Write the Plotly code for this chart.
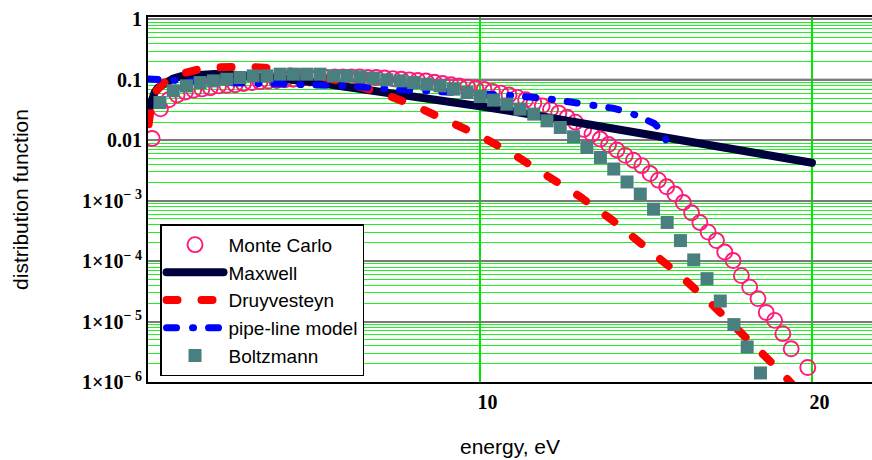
import numpy as np
import plotly.graph_objects as go

# ---------------- data ----------------
# Monte Carlo: energy (eV) and log10 of distribution function
E_mc = [0.125, 0.375, 0.625, 0.875, 1.125, 1.375, 1.625, 1.875, 2.125, 2.375,
        2.625, 2.875, 3.125, 3.375, 3.625, 3.875, 4.125, 4.375, 4.625, 4.875,
        5.125, 5.375, 5.625, 5.875, 6.125, 6.375, 6.625, 6.875, 7.125, 7.375,
        7.625, 7.875, 8.125, 8.375, 8.625, 8.875, 9.125, 9.375, 9.625, 9.875,
        10.125, 10.375, 10.625, 10.875, 11.125, 11.375, 11.625, 11.875, 12.125, 12.375,
        12.625, 12.875, 13.125, 13.375, 13.625, 13.875, 14.125, 14.375, 14.625, 14.875,
        15.125, 15.375, 15.625, 15.875, 16.125, 16.375, 16.625, 16.875, 17.125, 17.375,
        17.625, 17.875, 18.125, 18.375, 18.625, 18.875, 19.125, 19.375, 19.875]
log_mc = [-1.97, -1.48, -1.33, -1.25, -1.20, -1.17, -1.15, -1.13, -1.10, -1.09,
          -1.08, -1.06, -1.045, -1.03, -1.02, -1.01, -1.00, -0.99, -0.98, -0.97,
          -0.96, -0.96, -0.95, -0.95, -0.95, -0.95, -0.96, -0.96, -0.97, -0.98,
          -0.99, -1.00, -1.01, -1.02, -1.04, -1.06, -1.08, -1.10, -1.12, -1.14,
          -1.16, -1.19, -1.22, -1.25, -1.29, -1.33, -1.38, -1.43, -1.49, -1.55,
          -1.62, -1.70, -1.82, -1.90, -1.98, -2.07, -2.16, -2.25, -2.33, -2.42,
          -2.55, -2.66, -2.77, -2.89, -3.03, -3.20, -3.36, -3.52, -3.66, -3.85,
          -3.99, -4.24, -4.43, -4.62, -4.85, -4.98, -5.20, -5.45, -5.76]

# Maxwell
E_max = [0.05, 0.1, 0.2, 0.3, 0.5, 0.75, 1, 1.5, 2, 2.5, 3, 4, 5, 6, 7, 8, 9, 10,
         11, 12, 13, 14, 15, 16, 17, 18, 19, 20]
f_max = [0.036, 0.047, 0.062, 0.074, 0.090, 0.105, 0.115, 0.123, 0.125, 0.123,
         0.118, 0.105, 0.091, 0.077, 0.065, 0.054, 0.0446, 0.0366, 0.0299, 0.0243,
         0.0197, 0.0159, 0.0128, 0.0103, 0.0083, 0.0066, 0.0053, 0.00425]

# Druyvesteyn
E_dru = [0.02, 0.05, 0.1, 0.25, 0.5, 1, 1.5, 2, 2.5, 3, 3.5, 4, 5, 6, 7, 8, 9, 10,
         11, 12, 13, 14, 15, 16, 17, 18, 19, 19.6]
f_dru = [0.0185, 0.0292, 0.0413, 0.0652, 0.0916, 0.126, 0.148, 0.160, 0.166, 0.165,
         0.159, 0.148, 0.120, 0.089, 0.061, 0.038, 0.022, 0.0119, 0.0059, 0.0027,
         0.00118, 4.7e-4, 1.75e-4, 6.0e-5, 1.9e-5, 5.7e-6, 1.6e-6, 7.0e-7]

# pipe-line model
E_pipe = [0, 0.5, 1, 2, 3, 4, 5, 6, 7, 8, 9, 10, 11, 12, 13, 14, 14.5, 15, 15.25,
          15.5, 15.7]
f_pipe = [0.103, 0.099, 0.095, 0.091, 0.088, 0.086, 0.085, 0.080, 0.072, 0.067,
          0.063, 0.062, 0.055, 0.049, 0.042, 0.034, 0.029, 0.022, 0.019, 0.014, 0.0075]

# Boltzmann: energy (eV) and log10 of distribution function
E_bol = [0.36, 0.76, 1.16, 1.57, 1.97, 2.37, 2.77, 3.17, 3.58, 3.98, 4.38, 4.78,
         5.18, 5.59, 5.99, 6.39, 6.79, 7.19, 7.60, 8.00, 8.40, 8.80, 9.20, 9.61,
         10.01, 10.41, 10.81, 11.21, 11.62, 12.02, 12.42, 12.82, 13.22, 13.63, 14.03,
         14.43, 14.83, 15.23, 15.64, 16.04, 16.44, 16.84, 17.24, 17.65, 18.05, 18.45]
log_bol = [-1.375, -1.18, -1.10, -1.045, -1.017, -0.99, -0.962, -0.934, -0.934, -0.906,
           -0.906, -0.906, -0.906, -0.934, -0.934, -0.95, -0.972, -1.0, -1.017, -1.045,
           -1.071, -1.099, -1.154, -1.21, -1.276, -1.336, -1.402, -1.484, -1.567, -1.678,
           -1.788, -1.942, -2.119, -2.284, -2.476, -2.69, -2.89, -3.14, -3.36, -3.66,
           -3.98, -4.29, -4.66, -5.05, -5.42, -5.85]

y_tickvals = [1, 0.1, 0.01, 1e-3, 1e-4, 1e-5, 1e-6]
y_ticktext = ["1", "0.1", "0.01", "1\u00d710<sup>\u2212 3</sup>", "1\u00d710<sup>\u2212 4</sup>",
              "1\u00d710<sup>\u2212 5</sup>", "1\u00d710<sup>\u2212 6</sup>"]
x_tickvals = [10, 20]
x_ticktext = ["&nbsp;&nbsp;&nbsp;10", "&nbsp;&nbsp;&nbsp;20"]

Y_RANGE = [-6.0, 0.04]
X_RANGE = [0, 21.81]

# ---------------- figure ----------------
fig = go.Figure()
fig.add_trace(go.Scatter(
    x=E_mc, y=np.power(10.0, log_mc), mode="markers", name="Monte Carlo",
    marker=dict(symbol="circle-open", size=15, color="#ff1a7a",
                line=dict(width=1.9, color="#ff1a7a"))))
fig.add_trace(go.Scatter(
    x=E_max, y=f_max, mode="lines", name="Maxwell",
    line=dict(color="#00003c", width=8)))
fig.add_trace(go.Scatter(
    x=E_dru, y=f_dru, mode="lines", name="Druyvesteyn",
    line=dict(color="#ff0000", width=8, dash="11px,24px")))
fig.add_trace(go.Scatter(
    x=E_pipe, y=f_pipe, mode="lines", name="pipe-line model",
    line=dict(color="#0000ff", width=7, dash="10px,16px,1px,15px")))
fig.add_trace(go.Scatter(
    x=E_bol, y=np.power(10.0, log_bol), mode="markers", name="Boltzmann",
    marker=dict(symbol="square", size=13, color="#4a7f80")))

green = "#22f022"
serif_bold = dict(family="Liberation Serif, Times New Roman, serif", size=20,
                  color="black", weight="bold")
sans_title = dict(family="Arial, Liberation Sans, sans-serif", size=21, color="black")
sans_leg = dict(family="Arial, Liberation Sans, sans-serif", size=19, color="black")

fig.update_xaxes(
    range=X_RANGE, tickmode="array", tickvals=x_tickvals, ticktext=x_ticktext,
    tickfont=serif_bold, ticks="", showgrid=True, gridcolor="#00e600", gridwidth=1.5,
    zeroline=False, showline=True, linecolor="black", linewidth=2, mirror=True,
    ticklabelstandoff=1,
    title=dict(text="energy, eV", font=sans_title, standoff=27))
fig.update_yaxes(
    type="log", range=Y_RANGE, tickmode="array", tickvals=y_tickvals,
    ticktext=y_ticktext, tickfont=serif_bold, ticks="", showgrid=True,
    gridcolor="#7a7a7a", gridwidth=2, zeroline=False, showline=True,
    linecolor="black", linewidth=2, mirror=False,
    minor=dict(dtick="D1", showgrid=True, gridcolor=green, gridwidth=1, ticks=""),
    title=dict(text="distribution function", font=sans_title, standoff=48))


def paper_y(v):
    return (np.log10(v) - Y_RANGE[0]) / (Y_RANGE[1] - Y_RANGE[0])


shapes = [
    dict(type="line", xref="paper", yref="paper", x0=0, x1=1,
         y0=paper_y(1e-3), y1=paper_y(1e-3), layer="below",
         line=dict(color="black", width=1.5)),
    dict(type="line", xref="paper", yref="paper", x0=0, x1=1,
         y0=paper_y(0.1), y1=paper_y(0.1), layer="below",
         line=dict(color="#404040", width=2)),
]

fig.update_layout(
    width=872, height=460,
    margin=dict(l=148, r=0, t=17, b=78),
    plot_bgcolor="white", paper_bgcolor="white",
    shapes=shapes,
    showlegend=True,
    legend=dict(x=0.0166, y=0.432, xanchor="left", yanchor="top",
                bgcolor="white", bordercolor="black", borderwidth=1.5,
                font=sans_leg, itemwidth=57, tracegroupgap=0),
)

post = ("document.querySelectorAll('path.js-line').forEach(function(p){"
        "p.style.strokeLinecap='round';});")
fig.write_html("out.html", post_script=post)
